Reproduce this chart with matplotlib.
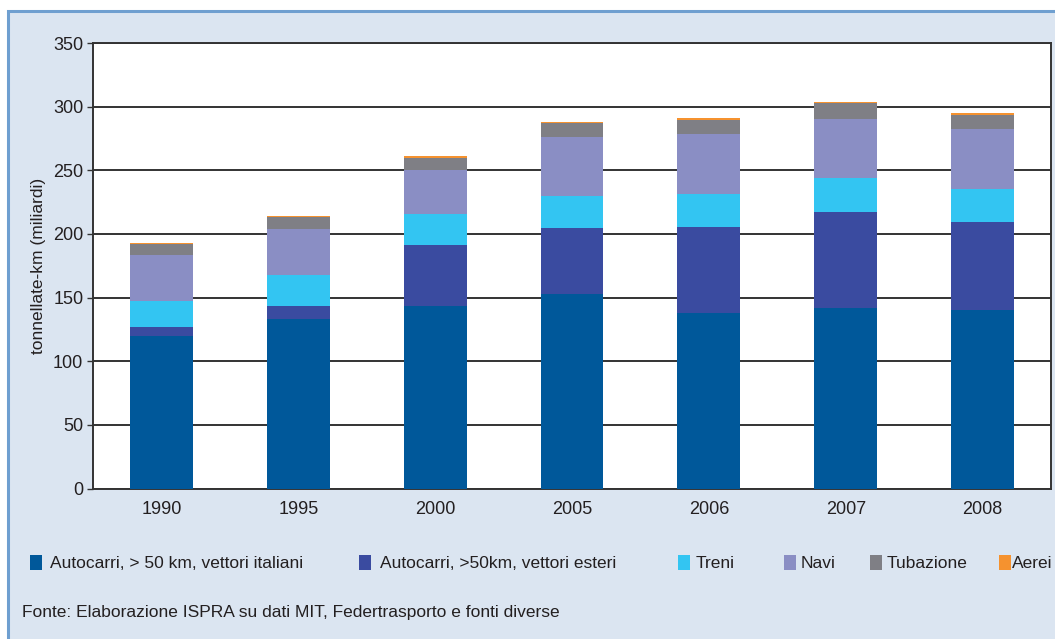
import matplotlib
matplotlib.use("Agg")
import matplotlib.pyplot as plt
from matplotlib.patches import Rectangle
import numpy as np

years = ["1990", "1995", "2000", "2005", "2006", "2007", "2008"]
series_names = ["Autocarri, > 50 km, vettori italiani", "Autocarri, >50km, vettori esteri",
                "Treni", "Navi", "Tubazione", "Aerei"]
italiani = [120, 133.5, 143, 152.5, 138, 142, 140]
esteri = [6.5, 10, 48, 52.5, 67.5, 75.5, 69.5]
treni = [21, 24.5, 25, 24.5, 26, 26.5, 26]
navi = [36, 36, 34, 47, 47, 46.5, 47]
tubazione = [8.5, 9, 9.5, 11, 11, 12, 11]
aerei = [0.8, 1, 1.5, 0.8, 1.5, 1.5, 1.5]
yticks = [0, 50, 100, 150, 200, 250, 300, 350]

colors = ["#00589a", "#3a4ba0", "#33c5f2", "#8a8ec4", "#7f7f85", "#f5922f"]
data = [italiani, esteri, treni, navi, tubazione, aerei]

plt.rcParams['font.family'] = ['Liberation Sans Narrow', 'Liberation Sans', 'DejaVu Sans']
txtc = "#231f20"

fig = plt.figure(figsize=(10.55, 6.39), dpi=100)
W, H = 1055, 639
fig.patches.append(Rectangle((8 / W, -0.01), 1.0, (H - 11) / H + 0.01, transform=fig.transFigure,
                             facecolor="#dbe5f1", edgecolor="#6f9fd0", lw=2.2, zorder=-5))

ax_top, ax_bot = 43.0, 488.5
ax = fig.add_axes([93 / W, (H - ax_bot) / H, (1051 - 93) / W, (ax_bot - ax_top) / H], zorder=2)
ax.set_facecolor("white")
x = np.arange(len(years))
bottom = np.zeros(len(years))
for vals, c in zip(data, colors):
    ax.bar(x, vals, width=0.46, bottom=bottom, color=c, zorder=3, linewidth=0)
    bottom += np.array(vals)

ax.set_xlim(-0.5, len(years) - 0.5)
ax.set_ylim(0, 350)
ax.set_yticks(yticks)
ax.set_yticklabels([str(v) for v in yticks], fontsize=13, color=txtc)
ax.set_xticks(x)
ax.set_xticklabels(years, fontsize=13, color=txtc)
ax.tick_params(axis='x', length=0, pad=9)
ax.tick_params(axis='y', length=4, width=1, color="#333333", pad=3)
ax.grid(axis='y', color="#333333", lw=1.4, zorder=1)
for s in ax.spines.values():
    s.set_color("#333333")
    s.set_linewidth(1.4)
ax.set_ylabel("tonnellate-km (miliardi)", fontsize=12.5, color=txtc)
ax.yaxis.set_label_coords(-47 / (1051 - 93), 0.5)

# legend
mx = [30, 359, 678, 784, 870, 999]
tx = [50, 380, 696, 801, 887, 1012]
for name, c, px, tpx in zip(series_names, colors, mx, tx):
    fig.patches.append(Rectangle((px / W, (H - 570) / H), 12 / W, 15 / H,
                                 transform=fig.transFigure, facecolor=c, lw=0, zorder=2))
    fig.text(tpx / W, (H - 563) / H, name, fontsize=12.5, color=txtc, va="center", ha="left")

fig.text(22 / W, (H - 612) / H, "Fonte: Elaborazione ISPRA su dati MIT, Federtrasporto e fonti diverse",
         fontsize=12.5, color=txtc, va="center", ha="left")

fig.savefig("out.png", dpi=100)
